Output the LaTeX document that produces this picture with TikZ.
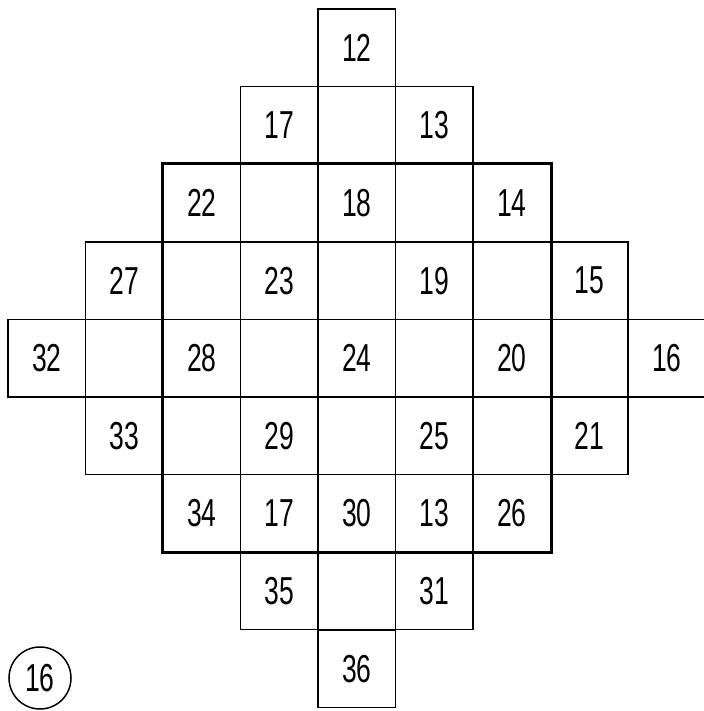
\documentclass[tikz,border=0pt]{standalone}
\usepackage{fontspec}
\setmainfont[FakeStretch=0.68]{Liberation Sans}
\begin{document}
\begin{tikzpicture}[x=1pt,y=-1pt,
  cell/.style={draw, line width=1.3pt, minimum size=77.5pt, inner sep=0pt, font=\fontsize{39}{42}\selectfont},
  frame/.style={line width=2.8pt},
  tag/.style={draw, circle, line width=1.5pt, minimum size=62pt, inner sep=0pt, font=\fontsize{39}{42}\selectfont}]
\useasboundingbox (0,0) rectangle (703,711);
\foreach \r/\c/\t in {0/4/12,
  1/3/17, 1/4/{}, 1/5/13,
  2/2/22, 2/3/{}, 2/4/18, 2/5/{}, 2/6/14,
  3/1/27, 3/2/{}, 3/3/23, 3/4/{}, 3/5/19, 3/6/{}, 3/7/15,
  4/0/32, 4/1/{}, 4/2/28, 4/3/{}, 4/4/24, 4/5/{}, 4/6/20, 4/7/{}, 4/8/16,
  5/1/33, 5/2/{}, 5/3/29, 5/4/{}, 5/5/25, 5/6/{}, 5/7/21,
  6/2/34, 6/3/17, 6/4/30, 6/5/13, 6/6/26,
  7/3/35, 7/4/{}, 7/5/31,
  8/4/36}
  \node[cell] (c\r-\c) at ({8+77.5*(\c+0.5)},{9+77.6*(\r+0.5)}) {\t};
\draw[frame] (c2-2.north west) rectangle (c6-6.south east);
\node[tag] (label) at (40,678) {16};
\end{tikzpicture}
\end{document}
